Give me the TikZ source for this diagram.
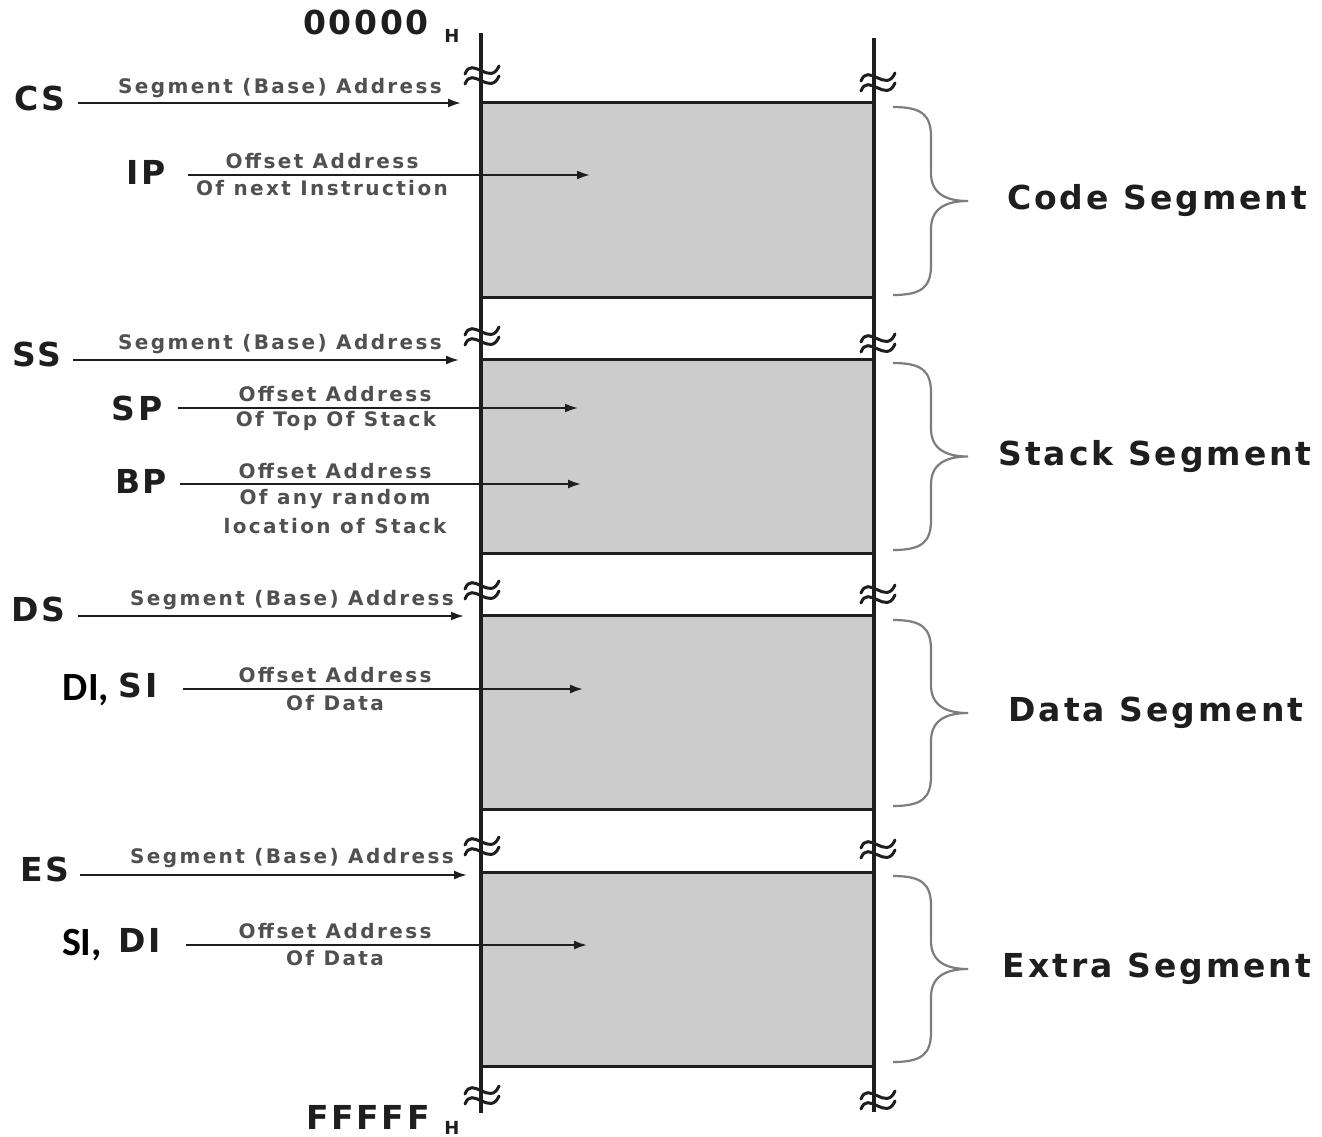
\documentclass[tikz,border=0pt]{standalone}
\usepackage{fontspec}
\usetikzlibrary{arrows.meta}
\newfontfamily\lblfont{DejaVu Sans}[LetterSpace=8]
\newfontfamily\segfont{DejaVu Sans}[LetterSpace=9]
\newfontfamily\notefont{DejaVu Sans}[LetterSpace=12]
\newfontfamily\calfont{Carlito}

\definecolor{boxgray}{RGB}{204,204,204}
\definecolor{notegray}{RGB}{80,80,80}
\definecolor{bracegray}{RGB}{125,125,125}
\definecolor{ink}{RGB}{30,30,30}

\tikzset{
  reg/.style={font=\lblfont\bfseries\fontsize{33}{36}\selectfont, text=ink, inner sep=0pt},
  seglabel/.style={font=\segfont\bfseries\fontsize{33}{36}\selectfont, text=ink, inner sep=0pt},
  note/.style={font=\notefont\bfseries\fontsize{20}{22}\selectfont, text=notegray, inner sep=0pt},
  hsub/.style={font=\lblfont\bfseries\fontsize{18}{20}\selectfont, text=ink, inner sep=0pt},
  cal/.style={font=\calfont\bfseries\fontsize{40}{42}\selectfont, text=black, inner sep=0pt},
  ptr/.style={draw=ink, line width=2pt, -{Latex[length=13pt,width=9pt]}},
  membox/.style={fill=boxgray, inner sep=0pt, minimum width=393pt},
  rail/.style={draw=ink, line width=4pt},
  edgeline/.style={draw=ink, line width=3pt},
  brc/.style={draw=bracegray, line width=2.2pt},
  brk/.pic={
    \draw[ink, line width=3pt, line cap=round] (-17,-1) .. controls (-10,-20) and (8,12) .. (17,-9);
    \draw[ink, line width=3pt, line cap=round] (-17,9) .. controls (-10,-10) and (8,22) .. (17,1);
  }
}

% curly brace on the right of a segment, given its top and bottom y
\newcommand\segbrace[2]{%
  \pgfmathsetmacro\bmid{(#1+#2)/2}
  \draw[brc] (893,#1) .. controls (922,#1) and (931,#1+8) .. (931,#1+30)
    -- (931,\bmid-28) .. controls (931,\bmid-8) and (945,\bmid) .. (968,\bmid)
    .. controls (945,\bmid) and (931,\bmid+8) .. (931,\bmid+28)
    -- (931,#2-30) .. controls (931,#2-8) and (922,#2) .. (893,#2);}

\begin{document}
\begin{tikzpicture}[x=1pt, y=-1pt]
\useasboundingbox[fill=white] (0,0) rectangle (1322,1137);

% memory segments
\node[membox, minimum height=194pt] (code)  at (677.5,200)   {};
\node[membox, minimum height=193pt] (stack) at (677.5,456.5) {};
\node[membox, minimum height=193pt] (data)  at (677.5,712.5) {};
\node[membox, minimum height=193pt] (extra) at (677.5,969.5) {};
\foreach \s in {code,stack,data,extra}{
  \draw[edgeline] (\s.north west) -- (\s.north east);
  \draw[edgeline] (\s.south west) -- (\s.south east);
}

% address space rails
\coordinate (lt) at (481,33);
\coordinate (lb) at (481,1113);
\coordinate (rt) at (874,38);
\coordinate (rb) at (874,1112);
\draw[rail] (lt) -- (lb);
\draw[rail] (rt) -- (rb);

% discontinuity marks
\foreach \y in {75,336,590,846,1095} \pic at (482,\y) {brk};
\foreach \y in {82,343,594,849,1100} \pic at (878,\y) {brk};

% address limits
\node[reg] (lo) at (366,22) {00000};
\node[hsub] (loh) at (452,36) {H};
\node[reg] (hi) at (368,1117) {FFFFF};
\node[hsub] (hih) at (452,1128) {H};

% braces and segment names
\segbrace{107}{295}
\segbrace{363}{550}
\segbrace{620}{806}
\segbrace{876}{1062}
\node[seglabel] (codelbl)  at (1157,201) {Code Segment};
\node[seglabel] (stacklbl) at (1155,457) {Stack Segment};
\node[seglabel] (datalbl)  at (1156,713) {Data Segment};
\node[seglabel] (extralbl) at (1157,969) {Extra Segment};

% code segment registers
\node[reg] (cs) at (40,98) {CS};
\coordinate (cs-a) at (78,103);  \coordinate (cs-b) at (461,103);
\draw[ptr] (cs-a) -- (cs-b);
\node[note] (csn) at (280,88) {Segment (Base) Address};

\node[reg] (ip) at (146,172) {IP};
\coordinate (ip-a) at (188,175); \coordinate (ip-b) at (590,175);
\draw[ptr] (ip-a) -- (ip-b);
\node[note] (ipn1) at (322,161) {Offset Address};
\node[note] (ipn2) at (322,188) {Of next Instruction};

% stack segment registers
\node[reg] (ss) at (37,354) {SS};
\coordinate (ss-a) at (73,360);  \coordinate (ss-b) at (459,360);
\draw[ptr] (ss-a) -- (ss-b);
\node[note] (ssn) at (280,344) {Segment (Base) Address};

\node[reg] (sp) at (137,408) {SP};
\coordinate (sp-a) at (178,408); \coordinate (sp-b) at (578,408);
\draw[ptr] (sp-a) -- (sp-b);
\node[note] (spn1) at (335,394) {Offset Address};
\node[note] (spn2) at (336,421) {Of Top Of Stack};

\node[reg] (bp) at (141,481) {BP};
\coordinate (bp-a) at (180,484); \coordinate (bp-b) at (581,484);
\draw[ptr] (bp-a) -- (bp-b);
\node[note] (bpn1) at (335,471) {Offset Address};
\node[note] (bpn2) at (335,499) {Of any random};
\node[note] (bpn3) at (335,526) {location of Stack};

% data segment registers
\node[reg] (ds) at (38,609) {DS};
\coordinate (ds-a) at (78,616);  \coordinate (ds-b) at (464,616);
\draw[ptr] (ds-a) -- (ds-b);
\node[note] (dsn) at (292,600) {Segment (Base) Address};

\node[cal] (di1) at (86,690) {DI,};
\node[reg] (si1) at (138,685) {SI};
\coordinate (si1-a) at (183,689); \coordinate (si1-b) at (583,689);
\draw[ptr] (si1-a) -- (si1-b);
\node[note] (si1n1) at (335,675) {Offset Address};
\node[note] (si1n2) at (335,703) {Of Data};

% extra segment registers
\node[reg] (es) at (45,869) {ES};
\coordinate (es-a) at (80,875);  \coordinate (es-b) at (467,875);
\draw[ptr] (es-a) -- (es-b);
\node[note] (esn) at (292,858) {Segment (Base) Address};

\node[cal] (si2) at (82,945) {SI,};
\node[reg] (di2) at (140,940) {DI};
\coordinate (di2-a) at (186,945); \coordinate (di2-b) at (587,945);
\draw[ptr] (di2-a) -- (di2-b);
\node[note] (di2n1) at (335,931) {Offset Address};
\node[note] (di2n2) at (335,958) {Of Data};
\end{tikzpicture}
\end{document}
